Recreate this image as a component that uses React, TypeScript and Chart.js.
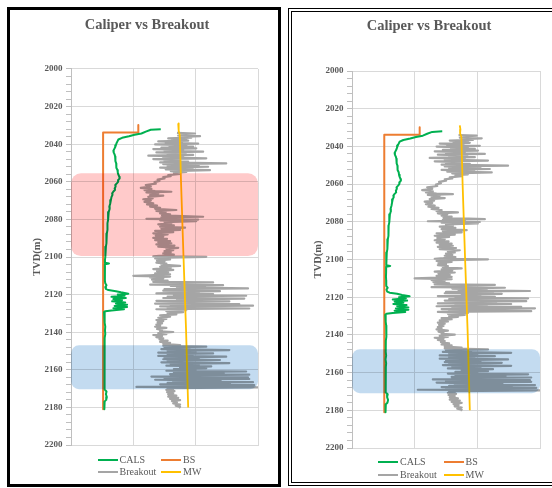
import React, { useEffect, useRef } from 'react';
import { Chart, registerables } from 'chart.js';

Chart.register(...registerables);

// ---------- data ----------
const TITLE = 'Caliper vs Breakout';
const Y_TITLE = 'TVD(m)';
const SERIES_NAMES = ['CALS', 'BS', 'Breakout', 'MW'];
const SERIES_COLORS = ['#00b050', '#ed7d31', '#a5a5a5', '#ffc000'];
const DEPTH_MIN = 2000;
const DEPTH_MAX = 2200;
const DEPTH_LABEL_STEP = 20;
const DEPTH_MINOR_STEP = 4;
const X_MIN = 0;
const X_MAX = 30;
const X_STEP = 10;

// [depth, value]
const cals: [number, number][] = [
  [2032.0, 14.4], [2032.3, 12.8], [2033.3, 12.0], [2034.3, 11.3], [2035.0, 10.2], [2035.8, 9.3], [2036.6, 8.2],
  [2037.5, 7.6], [2038.5, 7.45], [2039.5, 7.3], [2040.5, 7.2], [2041.5, 7.1], [2042.5, 6.95], [2043.5, 6.8],
  [2044.5, 6.85], [2045.5, 7.0], [2046.6, 7.08], [2048.0, 7.15], [2049.0, 7.1], [2050.2, 7.25], [2051.5, 7.3],
  [2052.5, 7.25], [2053.7, 7.45], [2055.0, 7.5], [2056.2, 7.6], [2057.3, 7.75], [2058.2, 7.8], [2059.0, 7.6],
  [2060.0, 7.55], [2060.8, 7.35], [2061.7, 7.1], [2062.6, 7.15], [2063.5, 7.0], [2064.4, 7.05], [2065.2, 6.8],
  [2066.1, 6.6], [2067.0, 6.65], [2068.0, 6.5], [2069.7, 6.4], [2071.5, 6.3], [2073.2, 6.15], [2074.5, 6.2],
  [2076.0, 6.05], [2078.5, 5.95], [2080.3, 5.95], [2082.0, 5.85], [2083.9, 5.9], [2085.6, 5.8], [2087.5, 5.75],
  [2089.2, 5.72], [2091.0, 5.65], [2092.8, 5.68], [2094.5, 5.6], [2096.3, 5.55], [2098.0, 5.5], [2099.8, 5.48],
  [2101.6, 5.45], [2103.0, 5.45], [2103.4, 6.1], [2103.8, 5.45], [2105.5, 5.43], [2107.0, 5.45], [2109.0, 5.42],
  [2111.0, 5.45], [2112.5, 5.43], [2114.0, 5.5], [2115.0, 5.7], [2116.0, 5.5], [2117.0, 5.6], [2117.6, 6.0],
  [2118.2, 7.2], [2118.8, 8.0], [2119.5, 9.2], [2120.0, 7.5], [2120.6, 8.6], [2121.2, 6.5], [2121.8, 8.8],
  [2122.4, 6.8], [2123.0, 8.2], [2123.6, 6.6], [2124.2, 8.7], [2124.8, 7.2], [2125.4, 9.0], [2126.0, 7.0],
  [2126.6, 9.0], [2127.2, 6.8], [2127.8, 8.5], [2128.4, 6.5], [2128.8, 5.5], [2129.3, 5.3], [2131.0, 5.35],
  [2133.0, 5.4], [2135.0, 5.45], [2137.0, 5.5], [2139.0, 5.45], [2141.0, 5.5], [2143.0, 5.4], [2145.0, 5.4],
  [2147.0, 5.35], [2149.0, 5.4], [2151.0, 5.45], [2153.0, 5.35], [2155.0, 5.45], [2157.0, 5.4], [2159.0, 5.35],
  [2161.0, 5.4], [2163.0, 5.35], [2165.0, 5.4], [2167.0, 5.35], [2169.0, 5.4], [2170.5, 5.4], [2171.5, 5.7],
  [2173.0, 5.6], [2174.5, 5.75], [2176.0, 5.65], [2176.8, 5.4], [2178.5, 5.35], [2181.0, 5.35],
];

const bs: [number, number][] = [
  [2029.8, 10.8], [2033.8, 10.8], [2033.8, 5.15], [2181.0, 5.15],
];

const mw: [number, number][] = [
  [2028.9, 17.2], [2031.0, 17.3], [2033.0, 17.25], [2035.0, 17.45], [2060.0, 17.65], [2100.0, 18.05],
  [2138.0, 18.45], [2180.0, 18.8],
];

const breakout: [number, number][] = [
  [2034.0, 17.0], [2034.3, 19.9], [2034.7, 17.8], [2035.0, 19.0], [2035.4, 17.2], [2035.7, 20.7], [2036.1, 17.5],
  [2036.5, 19.3], [2036.9, 15.6], [2037.3, 18.5], [2037.7, 16.2], [2038.1, 18.8], [2038.5, 14.0], [2038.9, 17.8],
  [2039.3, 15.2], [2039.7, 20.4], [2040.1, 13.5], [2040.5, 18.5], [2040.9, 15.8], [2041.3, 19.6], [2041.8, 14.5],
  [2042.2, 20.1], [2042.6, 13.2], [2043.0, 18.0], [2043.5, 15.0], [2044.0, 21.2], [2044.4, 13.7], [2044.8, 18.4],
  [2045.3, 15.5], [2045.7, 19.6], [2046.1, 12.4], [2046.5, 18.0], [2047.0, 14.8], [2047.5, 21.7], [2047.9, 13.2],
  [2048.4, 17.5], [2048.9, 15.0], [2049.3, 18.8], [2049.7, 14.3], [2050.2, 24.9], [2050.6, 14.8], [2051.1, 20.5],
  [2051.6, 15.5], [2052.0, 22.0], [2052.5, 14.3], [2053.0, 19.5], [2053.4, 15.2], [2053.8, 22.3], [2054.3, 16.0],
  [2054.8, 18.5], [2055.3, 16.5], [2055.8, 17.5], [2056.4, 15.6], [2057.0, 16.0], [2057.5, 14.8], [2058.2, 15.0],
  [2058.8, 13.9], [2059.5, 14.2], [2060.2, 13.4], [2061.0, 13.6], [2061.7, 12.0], [2062.5, 12.8], [2063.2, 11.2],
  [2063.8, 12.9], [2064.4, 11.8], [2065.0, 13.5], [2065.3, 16.1], [2065.7, 12.1], [2066.2, 14.0], [2067.0, 12.7],
  [2067.4, 14.8], [2068.0, 12.4], [2068.8, 13.1], [2069.3, 11.6], [2070.0, 12.8], [2070.7, 11.8], [2071.4, 13.2],
  [2072.0, 12.2], [2072.6, 13.8], [2073.2, 12.7], [2073.8, 14.3], [2074.4, 13.5], [2075.0, 16.9], [2075.5, 13.7],
  [2076.1, 15.2], [2076.8, 14.3], [2077.3, 15.9], [2077.9, 14.6], [2078.6, 21.2], [2078.9, 14.5], [2079.4, 18.0],
  [2079.7, 12.1], [2080.1, 20.4], [2080.5, 14.3], [2080.9, 20.1], [2081.4, 15.0], [2082.1, 16.1], [2082.6, 14.0],
  [2083.2, 16.5], [2083.9, 14.3], [2084.4, 18.3], [2085.0, 14.5], [2085.6, 17.5], [2086.1, 13.5], [2086.8, 16.4],
  [2087.4, 13.2], [2088.0, 15.5], [2088.6, 13.6], [2089.2, 14.8], [2089.8, 13.2], [2090.4, 15.4], [2091.0, 13.5],
  [2091.6, 15.9], [2092.1, 14.0], [2092.7, 16.1], [2093.3, 13.7], [2093.9, 16.6], [2094.5, 14.0], [2095.1, 17.2],
  [2095.7, 15.3], [2096.3, 16.4], [2096.9, 15.0], [2097.5, 16.0], [2098.0, 14.8], [2098.7, 16.5], [2099.3, 14.6],
  [2099.6, 13.2], [2099.9, 21.7], [2100.3, 15.5], [2100.8, 13.5], [2101.3, 15.9], [2101.9, 13.8], [2102.5, 15.0],
  [2103.0, 13.7], [2103.5, 15.3], [2104.1, 14.5], [2104.7, 17.5], [2105.2, 14.3], [2105.8, 16.0], [2106.4, 13.2],
  [2106.9, 16.4], [2107.5, 13.8], [2108.1, 15.6], [2108.7, 13.5], [2109.2, 15.9], [2109.7, 12.5], [2110.0, 10.0],
  [2110.4, 15.9], [2110.9, 12.7], [2111.4, 14.8], [2112.0, 13.0], [2112.6, 15.5], [2113.2, 13.2], [2113.5, 22.8],
  [2113.9, 15.5], [2114.3, 20.0], [2114.7, 12.7], [2115.0, 24.4], [2115.4, 16.0], [2115.8, 21.5], [2116.2, 17.0],
  [2116.7, 28.4], [2117.1, 15.0], [2117.5, 22.5], [2117.9, 14.8], [2118.2, 23.9], [2118.6, 17.5], [2119.0, 20.5],
  [2119.4, 13.7], [2119.8, 22.8], [2120.2, 16.5], [2120.6, 28.1], [2121.0, 15.5], [2121.4, 21.0], [2121.8, 14.8],
  [2122.1, 27.8], [2122.5, 17.0], [2122.9, 23.0], [2123.3, 13.7], [2123.6, 25.4], [2124.0, 16.5], [2124.4, 21.5],
  [2124.8, 13.5], [2125.1, 27.0], [2125.5, 16.0], [2125.9, 29.2], [2126.3, 14.3], [2126.7, 24.0], [2127.0, 15.5],
  [2127.4, 28.6], [2127.8, 13.7], [2128.3, 18.5], [2128.8, 15.3], [2129.4, 18.0], [2130.0, 15.5], [2130.5, 16.9],
  [2131.1, 14.3], [2131.7, 15.9], [2132.3, 14.0], [2132.9, 15.3], [2133.5, 13.7], [2134.1, 14.8], [2134.7, 13.9],
  [2135.3, 14.6], [2135.9, 13.7], [2136.5, 14.3], [2137.1, 13.5], [2137.7, 15.3], [2138.3, 13.8], [2138.9, 14.6],
  [2139.5, 14.3], [2139.9, 16.4], [2140.5, 14.0], [2141.0, 15.3], [2141.5, 13.2], [2142.1, 14.6], [2142.7, 13.7],
  [2143.3, 14.8], [2143.9, 14.2], [2144.5, 15.5], [2145.1, 14.3], [2145.6, 15.9], [2146.2, 14.8], [2146.8, 17.5],
  [2147.2, 14.8], [2147.7, 21.7], [2148.1, 15.0], [2148.6, 19.0], [2149.0, 14.5], [2149.5, 25.4], [2149.9, 15.5],
  [2150.4, 20.0], [2150.9, 14.0], [2151.3, 22.8], [2151.7, 15.5], [2152.2, 19.5], [2152.6, 14.0], [2153.0, 24.9],
  [2153.5, 15.0], [2154.0, 20.5], [2154.4, 14.8], [2154.8, 23.9], [2155.2, 15.5], [2155.6, 19.5], [2156.0, 14.5],
  [2156.4, 25.4], [2156.9, 16.0], [2157.4, 20.5], [2157.8, 15.3], [2158.2, 22.5], [2158.7, 17.5], [2159.2, 21.7],
  [2159.6, 16.5], [2160.0, 20.0], [2160.5, 15.3], [2160.9, 28.1], [2161.3, 16.5], [2161.8, 24.5], [2162.3, 15.9],
  [2162.6, 28.6], [2163.0, 16.0], [2163.3, 22.0], [2163.6, 12.9], [2164.0, 28.4], [2164.4, 15.0], [2164.9, 28.6],
  [2165.3, 13.5], [2165.8, 24.0], [2166.3, 16.4], [2166.6, 29.2], [2167.0, 15.5], [2167.4, 25.5], [2167.7, 14.3],
  [2168.1, 29.4], [2168.5, 15.0], [2168.8, 26.5], [2169.1, 10.5], [2169.4, 30.0], [2169.8, 15.5], [2170.3, 16.4],
  [2170.7, 15.3], [2171.3, 16.6], [2171.9, 15.4], [2172.5, 16.4], [2173.1, 15.6], [2173.7, 16.9], [2174.3, 15.6],
  [2174.9, 17.2], [2175.5, 15.9], [2176.1, 17.5], [2176.7, 16.2], [2177.3, 17.0], [2177.9, 16.4], [2178.5, 17.5],
  [2179.1, 16.8], [2179.7, 17.5], [2180.2, 17.3],
];

// shaded depth zones [from, to]
const pinkZone = [2055.5, 2099.5];
const blueZone = [2147.0, 2170.3];

const SERIES_DATA = [cals, bs, breakout, mw];
const SERIES_WIDTHS = [2, 2, 2.2, 1.8];
const SERIES_ORDER = [1, 2, 3, 0];

// ---------- helpers ----------
const FONT = 'Liberation Serif, "Times New Roman", serif';
const TEXT_COLOR = '#595959';

type Zone = { from: number; to: number; color: string; radius: number };

function roundRectPath(ctx: CanvasRenderingContext2D, x: number, y: number, w: number, h: number, r: number) {
  const rr = Math.min(r, w / 2, h / 2);
  ctx.beginPath();
  ctx.moveTo(x + rr, y);
  ctx.lineTo(x + w - rr, y);
  ctx.arcTo(x + w, y, x + w, y + rr, rr);
  ctx.lineTo(x + w, y + h - rr);
  ctx.arcTo(x + w, y + h, x + w - rr, y + h, rr);
  ctx.lineTo(x + rr, y + h);
  ctx.arcTo(x, y + h, x, y + h - rr, rr);
  ctx.lineTo(x, y + rr);
  ctx.arcTo(x, y, x + rr, y, rr);
  ctx.closePath();
}

type PanelProps = {
  left: number;
  top: number;
  width: number;
  height: number;
  yAxisWidth: number;
  rightWidth: number;
  titleTop: number;
  titleBottom: number;
  zones: Zone[];
  legendLeft: number;
  legendTop: number;
  legendCol: number;
  legendRow: number;
};

function Panel(p: PanelProps) {
  const ref = useRef<HTMLCanvasElement | null>(null);

  useEffect(() => {
    if (!ref.current) return;
    const zonePlugin = {
      id: 'zones',
      afterDatasetsDraw(chart: any) {
        const { ctx, chartArea } = chart;
        const y = chart.scales.y;
        ctx.save();
        ctx.globalCompositeOperation = 'multiply';
        for (const z of p.zones) {
          const t = y.getPixelForValue(z.from);
          const b = y.getPixelForValue(z.to);
          roundRectPath(ctx, chartArea.left, t, chartArea.right - chartArea.left, b - t, z.radius);
          ctx.fillStyle = z.color;
          ctx.fill();
        }
        ctx.restore();
      },
    };

    const datasets = SERIES_NAMES.map((name, i) => ({
      label: name,
      data: SERIES_DATA[i].map(([d, v]) => ({ x: v, y: d })),
      borderColor: SERIES_COLORS[i],
      backgroundColor: SERIES_COLORS[i],
      borderWidth: SERIES_WIDTHS[i],
      showLine: true,
      pointRadius: 0,
      pointHoverRadius: 0,
      tension: 0,
      fill: false,
      order: SERIES_ORDER[i],
      borderJoinStyle: 'round' as const,
    }));

    const chart = new Chart(ref.current, {
      type: 'scatter',
      data: { datasets },
      plugins: [zonePlugin],
      options: {
        responsive: false,
        maintainAspectRatio: false,
        animation: false,
        events: [],
        layout: { padding: { top: 0, left: 0, right: 0, bottom: 10 } },
        plugins: {
          legend: { display: false },
          tooltip: { enabled: false },
          title: {
            display: true,
            text: TITLE,
            color: TEXT_COLOR,
            font: { family: FONT, size: 14.5, weight: 'bold' },
            padding: { top: p.titleTop, bottom: p.titleBottom },
          },
        },
        scales: {
          x: {
            type: 'linear',
            min: X_MIN,
            max: X_MAX,
            ticks: { display: false, stepSize: X_STEP },
            grid: { color: '#d9d9d9', drawTicks: false },
            border: { color: '#d9d9d9' },
          },
          y: {
            type: 'linear',
            reverse: true,
            min: DEPTH_MIN,
            max: DEPTH_MAX,
            afterFit: (s: any) => {
              s.width = p.yAxisWidth;
            },
            ticks: {
              stepSize: DEPTH_MINOR_STEP,
              autoSkip: false,
              maxTicksLimit: 100,
              padding: 3.5,
              color: TEXT_COLOR,
              font: { family: FONT, size: 9, weight: 'bold' },
              callback: (v: any) => (Math.round(Number(v)) % DEPTH_LABEL_STEP === 0 ? String(Math.round(Number(v))) : ''),
            },
            grid: {
              color: (c: any) =>
                c.tick && Math.round(c.tick.value) % DEPTH_LABEL_STEP === 0 ? '#d9d9d9' : 'rgba(0,0,0,0)',
              tickColor: '#bfbfbf',
              tickLength: 5,
            },
            border: { color: '#bfbfbf' },
            title: {
              display: true,
              text: Y_TITLE,
              color: TEXT_COLOR,
              font: { family: FONT, size: 10.5, weight: 'bold' },
              padding: { top: 4, bottom: 4 },
            },
          },
          y2: {
            type: 'linear',
            position: 'right',
            display: true,
            grid: { display: false },
            ticks: { display: false },
            border: { display: false },
            afterFit: (s: any) => {
              s.width = p.rightWidth;
            },
          },
        },
      } as any,
    });
    return () => chart.destroy();
  }, []);

  return (
    <>
      <canvas
        ref={ref}
        width={p.width}
        height={p.height}
        style={{ position: 'absolute', left: p.left, top: p.top, width: p.width, height: p.height }}
      />
      <div
        style={{
          position: 'absolute',
          left: p.legendLeft,
          top: p.legendTop,
          display: 'grid',
          gridTemplateColumns: `${p.legendCol}px auto`,
          gridAutoRows: `${p.legendRow}px`,
          fontFamily: FONT,
          fontSize: 10,
          color: TEXT_COLOR,
          lineHeight: 1,
          whiteSpace: 'nowrap',
        }}
      >
        {SERIES_NAMES.map((name, i) => (
          <div key={name} style={{ display: 'flex', alignItems: 'center' }}>
            <span style={{ display: 'inline-block', width: 20, height: 2, background: SERIES_COLORS[i] }} />
            <span style={{ marginLeft: 2 }}>{name}</span>
          </div>
        ))}
      </div>
    </>
  );
}

export default function App() {
  const PINK = '#ffcaca';
  const BLUE = '#c3dbf0';
  return (
    <div
      style={{
        position: 'fixed',
        left: 0,
        top: 0,
        width: 552,
        height: 488,
        background: '#ffffff',
        overflow: 'hidden',
      }}
    >
      <div
        style={{
          position: 'absolute',
          left: 7,
          top: 7,
          width: 274,
          height: 480,
          border: '3px solid #000',
          boxSizing: 'border-box',
        }}
      />
      <div
        style={{
          position: 'absolute',
          left: 288,
          top: 8,
          width: 290,
          height: 478,
          border: '4px double #000',
          boxSizing: 'border-box',
        }}
      />
      <Panel
        left={27}
        top={10}
        width={240}
        height={445}
        yAxisWidth={44}
        rightWidth={9}
        titleTop={6.3}
        titleBottom={35.3}
        zones={[
          { from: pinkZone[0], to: pinkZone[1], color: PINK, radius: 10 },
          { from: blueZone[0], to: blueZone[1], color: BLUE, radius: 8 },
        ]}
        legendLeft={97.5}
        legendTop={454}
        legendCol={63.5}
        legendRow={12.3}
      />
      <Panel
        left={308}
        top={12}
        width={242}
        height={446}
        yAxisWidth={44}
        rightWidth={10}
        titleTop={6}
        titleBottom={35.6}
        zones={[{ from: blueZone[0] + 0.6, to: blueZone[1] + 0.6, color: BLUE, radius: 8 }]}
        legendLeft={378}
        legendTop={455}
        legendCol={65.5}
        legendRow={13.3}
      />
    </div>
  );
}
